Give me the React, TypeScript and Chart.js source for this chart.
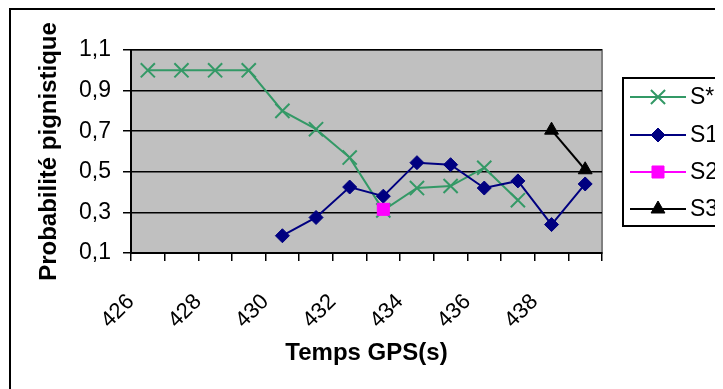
import React, { useEffect, useRef } from 'react';
import { Chart, registerables } from 'chart.js';
import { drawPoint } from 'chart.js/helpers';

Chart.register(...registerables);

const categories = ['426', '427', '428', '429', '430', '431', '432', '433', '434', '435', '436', '437', '438', '439'];
const seriesNames = ['S*', 'S1', 'S2', 'S3'];
const sStar = [1.0, 1.0, 1.0, 1.0, 0.8, 0.71, 0.57, 0.31, 0.42, 0.43, 0.52, 0.36, null, null];
const s1 = [null, null, null, null, 0.185, 0.275, 0.425, 0.38, 0.545, 0.535, 0.42, 0.455, 0.24, 0.44];
const s2 = [null, null, null, null, null, null, null, 0.315, null, null, null, null, null, null];
const s3 = [null, null, null, null, null, null, null, null, null, null, null, null, 0.705, 0.51];
const yMin = 0.1;
const yMax = 1.1;
const yStep = 0.2;
const yTitle = 'Probabilité pignistique';
const xTitle = 'Temps GPS(s)';

const FONT = "'Liberation Sans', Arial, sans-serif";

const chartPlugin = {
  id: 'excelLook',
  beforeDraw(chart: any) {
    const { ctx, chartArea: a, width, height } = chart;
    ctx.save();
    ctx.fillStyle = '#ffffff';
    ctx.fillRect(0, 0, width, height);
    ctx.strokeStyle = '#000000';
    ctx.lineWidth = 2;
    ctx.strokeRect(2, 1, width + 20, height + 20);
    ctx.fillStyle = '#c0c0c0';
    ctx.fillRect(a.left, a.top, a.right - a.left, a.bottom - a.top);
    ctx.strokeStyle = '#808080';
    ctx.lineWidth = 2;
    ctx.strokeRect(a.left, a.top, a.right - a.left, a.bottom - a.top);
    ctx.restore();
  },
  afterDraw(chart: any) {
    const { ctx } = chart;
    const boxLeft = 615;
    const boxTop = 70;
    const boxBottom = 218;
    ctx.save();
    ctx.fillStyle = '#ffffff';
    ctx.fillRect(boxLeft, boxTop, 200, boxBottom - boxTop);
    ctx.strokeStyle = '#000000';
    ctx.lineWidth = 2;
    ctx.strokeRect(boxLeft, boxTop, 200, boxBottom - boxTop);
    const itemYs = [89, 127, 164, 201];
    chart.data.datasets.forEach((ds: any, i: number) => {
      const y = itemYs[i];
      ctx.strokeStyle = ds.borderColor;
      ctx.lineWidth = ds.borderWidth;
      ctx.beginPath();
      ctx.moveTo(622, y);
      ctx.lineTo(678, y);
      ctx.stroke();
      ctx.fillStyle = ds.pointBackgroundColor;
      ctx.strokeStyle = ds.pointBorderColor;
      ctx.lineWidth = ds.pointBorderWidth;
      drawPoint(ctx, { pointStyle: ds.pointStyle, radius: ds.pointRadius, rotation: 0, borderWidth: ds.pointBorderWidth }, 650, y);
      ctx.fillStyle = '#000000';
      ctx.font = `23px ${FONT}`;
      ctx.textBaseline = 'middle';
      ctx.textAlign = 'left';
      ctx.fillText(seriesNames[i], 682, y + 1);
    });
    ctx.restore();
  },
};

export default function App() {
  const ref = useRef<HTMLCanvasElement>(null);
  useEffect(() => {
    document.body.style.overflow = 'hidden';
    const canvas = ref.current!;
    const chart = new Chart(canvas, {
      type: 'line',
      data: {
        labels: categories,
        datasets: [
          {
            label: seriesNames[0],
            data: sStar,
            borderColor: '#339966',
            backgroundColor: '#339966',
            borderWidth: 2,
            pointStyle: 'crossRot',
            pointRadius: 10,
            pointBorderColor: '#339966',
            pointBackgroundColor: '#339966',
            pointBorderWidth: 2,
            order: 4,
          },
          {
            label: seriesNames[1],
            data: s1,
            borderColor: '#000080',
            backgroundColor: '#000080',
            borderWidth: 2,
            pointStyle: 'rectRot',
            pointRadius: 7,
            pointBorderColor: '#000080',
            pointBackgroundColor: '#000080',
            pointBorderWidth: 1,
            order: 3,
          },
          {
            label: seriesNames[2],
            data: s2,
            borderColor: '#ff00ff',
            backgroundColor: '#ff00ff',
            borderWidth: 2,
            pointStyle: 'rect',
            pointRadius: 8.5,
            pointBorderColor: '#ff00ff',
            pointBackgroundColor: '#ff00ff',
            pointBorderWidth: 1,
            order: 2,
          },
          {
            label: seriesNames[3],
            data: s3,
            borderColor: '#000000',
            backgroundColor: '#000000',
            borderWidth: 2,
            pointStyle: 'triangle',
            pointRadius: 8,
            pointBorderColor: '#000000',
            pointBackgroundColor: '#000000',
            pointBorderWidth: 1,
            order: 1,
          },
        ] as any,
      },
      options: {
        animation: false,
        responsive: true,
        maintainAspectRatio: false,
        events: [],
        spanGaps: false,
        layout: { padding: { top: 42, right: 121, left: 0, bottom: 0 } },
        plugins: {
          legend: { display: false },
          tooltip: { enabled: false },
        },
        elements: { line: { tension: 0 } },
        scales: {
          x: {
            type: 'category',
            offset: true,
            grid: { offset: true, drawOnChartArea: false, color: '#000000', lineWidth: 1.5, tickLength: 8 },
            border: { color: '#000000', width: 2 },
            ticks: {
              autoSkip: false,
              minRotation: 45,
              maxRotation: 45,
              labelOffset: -17,
              padding: 28,
              color: '#000000',
              font: { family: FONT, size: 22 },
              callback: (_v: any, idx: number) => (idx % 2 === 0 ? categories[idx] : ''),
            },
            title: {
              display: true,
              text: xTitle,
              color: '#000000',
              font: { family: FONT, size: 24, weight: 'bold' },
              padding: { top: 0, bottom: 21 },
            },
            afterFit: (s: any) => {
              s.height = 136;
            },
          },
          y: {
            min: yMin,
            max: yMax,
            grid: { color: '#000000', lineWidth: 1.5, tickLength: 8 },
            border: { color: '#000000', width: 2 },
            ticks: {
              stepSize: yStep,
              padding: 12,
              color: '#000000',
              font: { family: FONT, size: 23 },
              callback: (v: any) => Number(v).toFixed(1).replace('.', ','),
            },
            title: {
              display: true,
              text: yTitle,
              color: '#000000',
              font: { family: FONT, size: 24, weight: 'bold' },
              padding: { top: 27, bottom: 0 },
            },
            afterFit: (s: any) => {
              s.width = 123;
            },
          },
        },
      } as any,
      plugins: [chartPlugin],
    });
    return () => chart.destroy();
  }, []);
  return (
    <div style={{ width: 715, height: 381, position: 'relative' }}>
      <canvas ref={ref} />
    </div>
  );
}
